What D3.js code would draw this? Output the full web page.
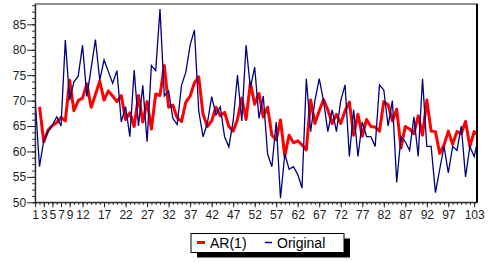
<!DOCTYPE html>
<meta charset="utf-8">
<style>
body { margin: 0; background: #fff; }
text { font-family: Arial, "Liberation Sans", sans-serif; }
.axis text { font-size: 12px; fill: #222; }
.axis path, .axis line { stroke: #222; }
.legend text { font-size: 14px; fill: #000; }
</style>
<body>
<script src="https://d3js.org/d3.v7.min.js"></script>
<script>
// observed series, obs 1..104
const original = [
  70, 57, 62.2, 63.9, 65.2, 66.8, 65, 81.9, 70.1, 73.7,
  74.8, 80.9, 70.8, 76.4, 82, 74, 78, 75.7, 73.4, 75.9,
  65.8, 68.8, 62.9, 76, 65, 73, 61.9, 76.9, 75.9, 88,
  70.9, 71.9, 66.5, 65.3, 73, 75.6, 80.9, 83.9, 68, 62.9,
  65.5, 70.8, 67.2, 68.8, 62.9, 60.9, 66, 75, 66, 80.9,
  72.5, 76.6, 66.5, 70.9, 59.5, 57, 65.8, 50.8, 59.5, 56.5,
  57, 55.5, 52.8, 74.3, 63.9, 70, 74.3, 70, 63.9, 68.2,
  63.9, 70, 73.1, 59, 68.2, 59, 65.8, 62.9, 62.9, 61,
  73.1, 72.1, 65, 70, 53.9, 62.9, 61.9, 60.2, 66.8, 59,
  74.3, 61, 61, 51.9, 56.5, 61, 55.8, 61, 60.2, 65,
  55, 61, 59, 62.9
];
// fitted AR(1), starts at obs 2
const ar1 = [
  null, 68.8, 61.9, 64.2, 65.1, 65.7, 66.7, 66, 74, 68,
  70, 70.5, 73.3, 68.7, 71.2, 73.8, 70.1, 71.9, 70.9, 69.8,
  71, 66.3, 67.6, 64.9, 71, 65.8, 69.8, 64.4, 71.3, 71,
  76.9, 68.7, 69.1, 66.6, 65.9, 69.7, 70.9, 73.5, 74.7, 67.3,
  64.9, 66, 68.7, 67, 67.7, 64.9, 64, 66.3, 70.5, 66.3,
  73.5, 69.3, 71.4, 66.8, 68.7, 63.2, 62.3, 66.2, 59.1, 63.2,
  61.7, 62.1, 61.3, 60.3, 70.1, 65.5, 68, 70.2, 68.2, 65.5,
  67.3, 65.5, 68, 69.7, 63.2, 67.3, 63, 66.3, 64.9, 64.8,
  64, 69.8, 69.2, 66, 68.3, 60.7, 64.9, 64.4, 63.5, 67,
  63.2, 70.1, 64, 63.9, 59.6, 61.3, 64, 61.4, 63.9, 63.5,
  65.9, 61, 63.9, 63.1
];
const xLabels = [1, 3, 5, 7, 9, 12, 17, 22, 27, 32, 37, 42, 47, 52, 57, 62, 67, 72, 77, 82, 87, 92, 97, 103];
const yTicks = [50, 55, 60, 65, 70, 75, 80, 85];

const margin = {top: 4, left: 35.2},
      width = 477 - margin.left,
      height = 202.3 - margin.top;

const svg = d3.select("body").append("svg")
    .attr("width", 489)
    .attr("height", 262);

const g = svg.append("g")
    .attr("transform", "translate(" + margin.left + "," + margin.top + ")");

const x = d3.scaleLinear().domain([1, 103.66]).range([0, width]);
const y = d3.scaleLinear().domain([50, 89]).range([height, 0]);

g.append("clipPath").attr("id", "plot")
  .append("rect").attr("width", width).attr("height", height);

// y axis: minor then major
g.append("g").attr("class", "axis")
    .call(d3.axisLeft(y).tickValues(d3.range(50, 89, 1.25)).tickSize(3).tickFormat("").tickSizeOuter(0));
g.append("g").attr("class", "axis")
    .call(d3.axisLeft(y).tickValues(yTicks).tickSize(8).tickPadding(1).tickSizeOuter(0))
    .select(".domain").remove();

// x axis
g.append("g").attr("class", "axis")
    .attr("transform", "translate(0," + height + ")")
    .call(d3.axisBottom(x).tickValues(d3.range(1, 104)).tickSize(2.5).tickFormat("").tickSizeOuter(0));
g.append("g").attr("class", "axis")
    .attr("transform", "translate(0," + height + ")")
    .call(d3.axisBottom(x).tickValues(xLabels).tickSize(5).tickPadding(3).tickSizeOuter(0))
    .select(".domain").remove();

const lineOf = d3.line()
    .defined(d => d != null)
    .x((d, i) => x(i + 1))
    .y(d => y(d));

const lines = g.append("g").attr("clip-path", "url(#plot)");
lines.append("path").datum(ar1)
    .attr("fill", "none").attr("stroke", "#ff0000").attr("stroke-width", 3)
    .attr("stroke-linejoin", "round")
    .attr("d", lineOf);
lines.append("path").datum(original)
    .attr("fill", "none").attr("stroke", "#000080").attr("stroke-width", 1.3)
    .attr("d", lineOf);

// plot frame
g.append("rect").attr("width", width).attr("height", height)
    .attr("fill", "none").attr("stroke", "#222").attr("stroke-width", 1);
g.append("line").attr("x1", width).attr("x2", width).attr("y1", 0).attr("y2", height)
    .attr("stroke", "#000").attr("stroke-width", 2);

// legend
const leg = svg.append("g").attr("class", "legend").attr("transform", "translate(191,233.5)");
leg.append("rect").attr("x", 6).attr("y", 5).attr("width", 153).attr("height", 19).attr("fill", "#000");
leg.append("rect").attr("width", 153).attr("height", 19).attr("fill", "#fff").attr("stroke", "#000");
leg.append("line").attr("x1", 6).attr("x2", 14).attr("y1", 9).attr("y2", 9)
    .attr("stroke", "#ff0000").attr("stroke-width", 3);
leg.append("text").attr("x", 19).attr("y", 14.5).text("AR(1)");
leg.append("line").attr("x1", 74).attr("x2", 81).attr("y1", 9).attr("y2", 9)
    .attr("stroke", "#000080").attr("stroke-width", 1.5);
leg.append("text").attr("x", 86).attr("y", 14.5).text("Original");
</script>
</body>
